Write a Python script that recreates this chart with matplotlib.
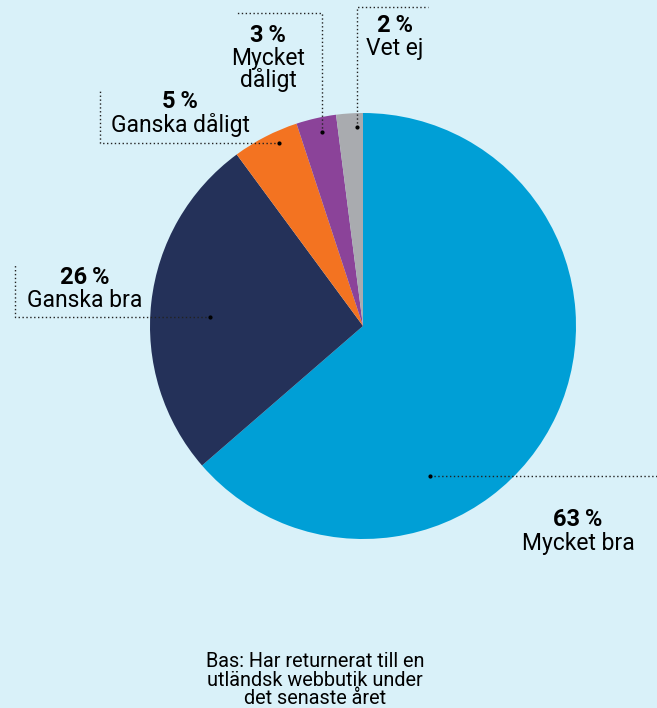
import matplotlib.pyplot as plt

# share of answers, clockwise from 12 o'clock
labels = ['Mycket bra', 'Ganska bra', 'Ganska dåligt', 'Mycket dåligt', 'Vet ej']
pct_labels = ['63\u2009%', '26\u2009%', '5\u2009%', '3\u2009%', '2\u2009%']
values = [63, 26, 5, 3, 2]
colors = ['#009fd6', '#243159', '#f37321', '#8b4399', '#a9abaf']
note = 'Bas: Har returnerat till en\nutländsk webbutik under\ndet senaste året'

BG = '#d9f1f9'
W, H = 657, 708


def Y(y):
    # pixel row (from top) -> data y
    return H - y


plt.rcParams['font.family'] = ['Roboto', 'DejaVu Sans']

fig = plt.figure(figsize=(W / 100, H / 100), dpi=100, facecolor=BG)
ax = fig.add_axes([0, 0, 1, 1])
ax.set_facecolor(BG)

ax.pie(values, colors=colors, startangle=90, counterclock=False,
       center=(363, Y(326)), radius=213, frame=True,
       wedgeprops=dict(linewidth=0))
ax.set_xlim(0, W)
ax.set_ylim(0, H)
ax.set_aspect('equal')
ax.axis('off')

# leader lines (pixel paths), the first point carries the dot
leaders = [
    [(430, 476), (657, 476)],
    [(210, 317), (15, 317), (15, 265)],
    [(279, 143), (100, 143), (100, 91)],
    [(322, 132), (322, 13), (237, 13)],
    [(357, 127), (357, 7), (428, 7)],
]
for path in leaders:
    xs = [p[0] for p in path]
    ys = [Y(p[1]) for p in path]
    ax.plot(xs, ys, linestyle=(0, (1, 1.8)), color='#222222', linewidth=1.0)
    ax.plot(xs[0], ys[0], 'o', color='black', markersize=2)

# label positions (centre of the percent line)
text_pos = [(578, 520), (85, 277), (180, 101), (268, 35), (395, 25)]
sub_labels = ['Mycket bra', 'Ganska bra', 'Ganska dåligt', 'Mycket\ndåligt', 'Vet ej']
for (x, y), p, s in zip(text_pos, pct_labels, sub_labels):
    ax.text(x, Y(y), p, ha='center', va='center', fontsize=17,
            fontweight='bold', color='black')
    ax.text(x, Y(y + 12), s, ha='center', va='top', fontsize=16.5,
            color='black', linespacing=0.9)

ax.text(315, Y(652), note, ha='center', va='top', fontsize=14.3,
        color='black', linespacing=0.97)

fig.savefig('out.png', dpi=100, facecolor=BG)
